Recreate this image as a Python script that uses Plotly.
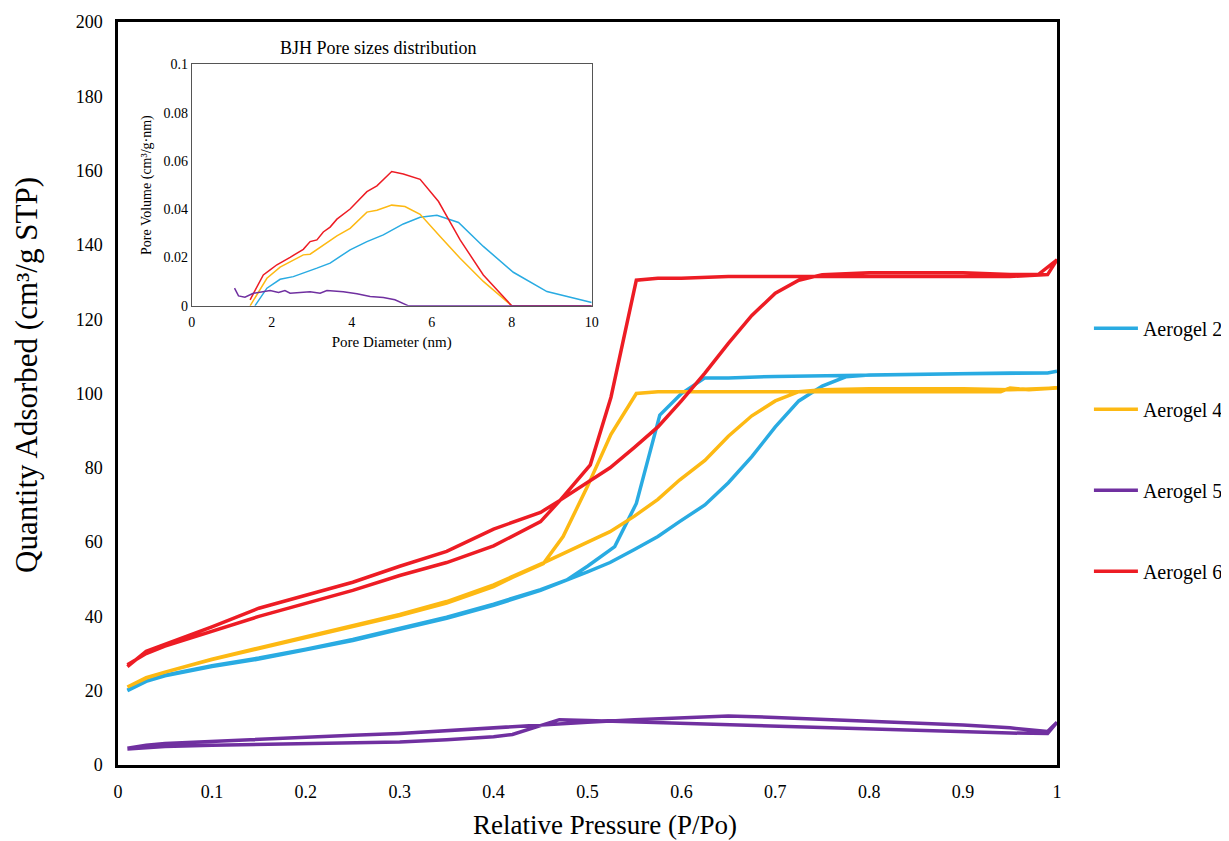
import plotly.graph_objects as go

# ---------------- Main isotherm data (adsorption then desorption) ----------------
a2_ads_x = [0.01, 0.03, 0.05, 0.1, 0.15, 0.2, 0.25, 0.3, 0.35, 0.4, 0.45, 0.5, 0.524, 0.55, 0.575, 0.598, 0.625, 0.65, 0.675, 0.7, 0.725, 0.75, 0.775, 0.8, 0.85, 0.9, 0.95, 0.99, 1.0]
a2_ads_y = [20, 22.5, 24, 26.5, 28.5, 31, 33.5, 36.5, 39.5, 43, 47, 52, 54.5, 58, 61.5, 65.5, 70, 76, 83, 91, 98, 102, 104.5, 105, 105.2, 105.5, 105.5, 105.5, 106]
a2_des_x = [1.0, 0.99, 0.9, 0.8, 0.7, 0.65, 0.625, 0.6, 0.577, 0.552, 0.529, 0.5, 0.478, 0.45, 0.4, 0.35, 0.3, 0.25, 0.2, 0.15, 0.1, 0.05, 0.03, 0.01]
a2_des_y = [106, 105.5, 105.3, 105, 104.6, 104.2, 104.2, 100, 94.2, 70.4, 58.8, 53.5, 49.8, 47.2, 43.3, 39.8, 36.8, 33.8, 31.2, 28.8, 26.7, 24.2, 22.6, 20.2]

a4_ads_x = [0.01, 0.03, 0.05, 0.1, 0.15, 0.2, 0.25, 0.3, 0.35, 0.4, 0.453, 0.5, 0.524, 0.55, 0.575, 0.598, 0.625, 0.65, 0.675, 0.7, 0.725, 0.75, 0.8, 0.9, 0.95, 1.0]
a4_ads_y = [21, 23.5, 25, 28.5, 31.5, 34.5, 37.5, 40.5, 44, 48.5, 54.4, 60, 62.8, 67, 71.5, 76.7, 82, 88.5, 94, 98, 100.5, 101, 101.3, 101.3, 101, 101.5]
a4_des_x = [1.0, 0.97, 0.96, 0.95, 0.94, 0.9, 0.8, 0.7, 0.6, 0.575, 0.552, 0.525, 0.5, 0.474, 0.453, 0.42, 0.4, 0.35, 0.3, 0.25, 0.2, 0.15, 0.1, 0.05, 0.03, 0.01]
a4_des_y = [101.5, 101, 101.2, 101.5, 100.5, 100.5, 100.5, 100.5, 100.5, 100.5, 100, 89, 75, 61.5, 54.2, 50.5, 48, 43.6, 40.2, 37.2, 34.2, 31.3, 28.4, 25, 23.4, 21]

a5_ads_x = [0.01, 0.03, 0.05, 0.1, 0.15, 0.2, 0.25, 0.3, 0.35, 0.4, 0.42, 0.47, 0.5, 0.55, 0.6, 0.65, 0.7, 0.75, 0.8, 0.85, 0.9, 0.95, 0.99, 1.0]
a5_ads_y = [4.3, 4.6, 5.0, 5.3, 5.5, 5.8, 6.0, 6.2, 6.8, 7.6, 8.2, 12.2, 12.0, 11.6, 11.3, 11.0, 10.5, 10.0, 9.8, 9.3, 9.0, 8.6, 8.5, 11.5]
a5_des_x = [1.0, 0.99, 0.97, 0.95, 0.9, 0.85, 0.8, 0.75, 0.7, 0.65, 0.6, 0.55, 0.5, 0.45, 0.4, 0.35, 0.3, 0.25, 0.2, 0.15, 0.1, 0.05, 0.03, 0.01]
a5_des_y = [11.5, 9.0, 9.5, 10.0, 10.8, 11.3, 12.0, 12.3, 12.8, 13.2, 12.8, 12.2, 11.5, 10.7, 10.0, 9.3, 8.5, 8.0, 7.5, 7.0, 6.3, 5.8, 5.3, 4.5]

a6_ads_x = [0.01, 0.03, 0.05, 0.1, 0.15, 0.2, 0.25, 0.3, 0.35, 0.4, 0.45, 0.471, 0.5, 0.524, 0.55, 0.575, 0.6, 0.625, 0.65, 0.675, 0.7, 0.725, 0.75, 0.8, 0.9, 0.95, 0.98, 1.0]
a6_ads_y = [27, 30, 32, 36, 40, 43.5, 47, 51, 54.5, 59, 65.5, 71.3, 76, 80, 85.5, 91, 98, 105.5, 113.5, 121, 127, 130.5, 132, 132.5, 132.5, 132, 132, 136]
a6_des_x = [1.0, 0.99, 0.95, 0.9, 0.8, 0.7, 0.65, 0.6, 0.575, 0.552, 0.525, 0.503, 0.471, 0.45, 0.4, 0.35, 0.3, 0.25, 0.2, 0.15, 0.1, 0.05, 0.03, 0.01]
a6_des_y = [136, 132, 131.5, 131.5, 131.5, 131.5, 131.5, 131, 131, 130.5, 99, 80.8, 71.3, 68, 63.5, 57.5, 53.5, 49.2, 45.6, 42.2, 37.2, 32.6, 30.6, 26.5]

# ---------------- Inset BJH pore size distribution ----------------
bjh2_x = [1.58, 1.88, 2.21, 2.54, 3.13, 3.46, 3.96, 4.38, 4.79, 5.29, 5.71, 6.13, 6.67, 7.29, 8.04, 8.88, 10.0]
bjh2_y = [0.0, 0.0073, 0.011, 0.0121, 0.0156, 0.0177, 0.0232, 0.0266, 0.0294, 0.0339, 0.0367, 0.0375, 0.0345, 0.0246, 0.0139, 0.0059, 0.0014]
bjh4_x = [1.46, 1.88, 2.21, 2.79, 2.96, 3.63, 3.96, 4.38, 4.63, 5.0, 5.33, 5.71, 6.21, 6.71, 7.29, 7.96, 8.0, 10.0]
bjh4_y = [0.0, 0.0114, 0.016, 0.0211, 0.0214, 0.029, 0.0321, 0.0388, 0.0396, 0.0417, 0.0411, 0.0379, 0.0287, 0.0197, 0.0101, 0.0004, 0.0, 0.0]
bjh5_x = [1.07, 1.17, 1.33, 1.54, 1.96, 2.17, 2.33, 2.46, 2.96, 3.21, 3.38, 3.79, 4.13, 4.46, 4.79, 5.08, 5.42, 10.0]
bjh5_y = [0.0073, 0.0041, 0.0036, 0.0052, 0.0063, 0.0055, 0.0063, 0.0052, 0.0058, 0.0052, 0.0063, 0.0058, 0.005, 0.0039, 0.0034, 0.0025, 0.0, 0.0]
bjh6_x = [1.46, 1.79, 1.96, 2.13, 2.46, 2.79, 2.96, 3.13, 3.29, 3.46, 3.63, 3.96, 4.38, 4.63, 5.0, 5.29, 5.71, 6.17, 6.71, 7.29, 8.0, 10.0]
bjh6_y = [0.0025, 0.0128, 0.0149, 0.017, 0.0201, 0.0234, 0.0266, 0.0273, 0.0306, 0.0326, 0.0359, 0.0401, 0.0473, 0.0497, 0.0556, 0.0546, 0.0524, 0.0432, 0.0273, 0.0128, 0.0, 0.0]

names = ["Aerogel 2", "Aerogel 4", "Aerogel 5", "Aerogel 6"]
colors = ["#29ABE2", "#FDB913", "#7030A0", "#ED1C24"]

FONT = "Liberation Serif"

fig = go.Figure()

main_series = [
    (a2_ads_x + a2_des_x, a2_ads_y + a2_des_y),
    (a4_ads_x + a4_des_x, a4_ads_y + a4_des_y),
    (a5_ads_x + a5_des_x, a5_ads_y + a5_des_y),
    (a6_ads_x + a6_des_x, a6_ads_y + a6_des_y),
]
for i, (xs, ys) in enumerate(main_series):
    fig.add_trace(go.Scatter(x=xs, y=ys, mode="lines", name=names[i],
                             legendgroup=names[i],
                             line=dict(color=colors[i], width=3.5)))

inset_series = [(bjh2_x, bjh2_y), (bjh4_x, bjh4_y), (bjh6_x, bjh6_y), (bjh5_x, bjh5_y)]
inset_colors = [colors[0], colors[1], colors[3], colors[2]]
for (xs, ys), c in zip(inset_series, inset_colors):
    fig.add_trace(go.Scatter(x=xs, y=ys, mode="lines", showlegend=False,
                             xaxis="x2", yaxis="y2",
                             line=dict(color=c, width=1.5)))

fig.update_layout(
    width=1221, height=833,
    margin=dict(l=110, r=172, t=14, b=76, autoexpand=False),
    paper_bgcolor="white", plot_bgcolor="white",
    font=dict(family=FONT, color="black"),
    xaxis=dict(range=[0, 1], dtick=0.1, showgrid=False, zeroline=False,
               showline=True, linecolor="black", linewidth=2.5, mirror=True,
               ticks="", tickfont=dict(size=18, family=FONT), automargin=False,
               ticklabelstandoff=9),
    yaxis=dict(range=[0, 200], dtick=20, showgrid=False, zeroline=False,
               showline=True, linecolor="black", linewidth=2.5, mirror=True,
               ticks="", tickfont=dict(size=18, family=FONT), automargin=False,
               ticklabelstandoff=9),
    xaxis2=dict(domain=[0.0785, 0.5045], anchor="y2", range=[0, 10], dtick=2,
                showgrid=False, zeroline=False, showline=True, linecolor="#555555",
                linewidth=1, mirror=True, ticks="", tickfont=dict(size=14, family=FONT),
                automargin=False, ticklabelstandoff=3,
                title=dict(text="Pore Diameter (nm)", font=dict(size=15, family=FONT), standoff=7)),
    yaxis2=dict(domain=[0.618, 0.943], anchor="x2", range=[0, 0.1], dtick=0.02,
                showgrid=False, zeroline=False, showline=True, linecolor="#555555",
                linewidth=1, mirror=True, ticks="", tickfont=dict(size=14, family=FONT),
                tickformat="~g", automargin=False,
                title=dict(text="Pore Volume (cm³/g·nm)", font=dict(size=14, family=FONT), standoff=8)),
    legend=dict(x=1.034, y=0.614, xanchor="left", yanchor="top",
                font=dict(size=20, family=FONT), traceorder="grouped",
                tracegroupgap=52, itemwidth=44, bgcolor="rgba(0,0,0,0)"),
    annotations=[
        dict(text="BJH Pore sizes distribution", x=0.277, y=0.965,
             xref="paper", yref="paper", showarrow=False,
             xanchor="center", yanchor="middle", font=dict(size=18, family=FONT)),
        dict(text="Quantity Adsorbed (cm³/g STP)", x=-0.0969, y=0.525,
             xref="paper", yref="paper", showarrow=False, textangle=-90,
             xanchor="center", yanchor="middle", font=dict(size=31, family=FONT)),
        dict(text="Relative Pressure (P/Po)", x=0.5186, y=-0.0808,
             xref="paper", yref="paper", showarrow=False,
             xanchor="center", yanchor="middle", font=dict(size=27, family=FONT)),
    ],
)

fig.write_html("out.html")
